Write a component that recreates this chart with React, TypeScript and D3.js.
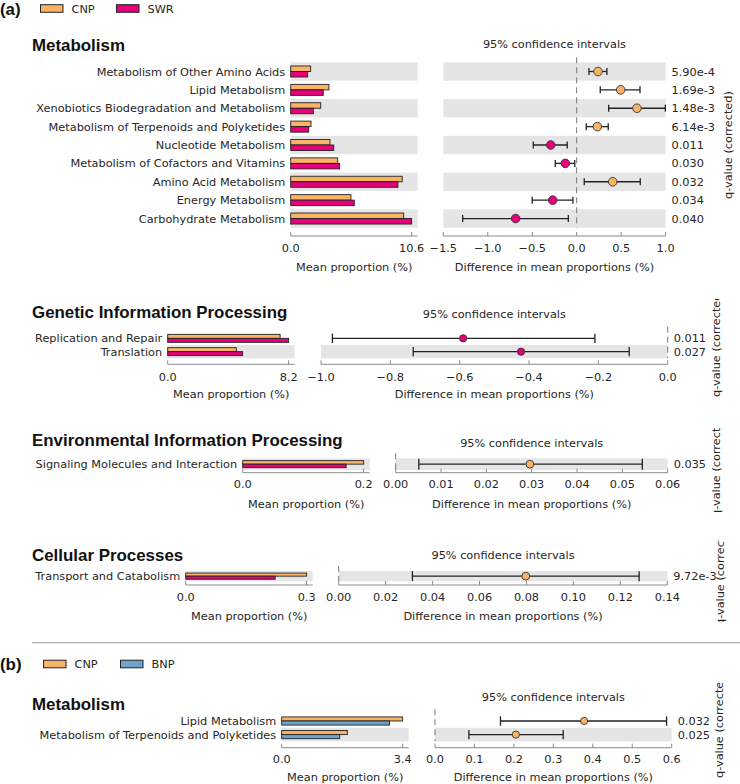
import React from "react";
import * as d3 from "d3";

// ---------- DATA ----------
const metabCats = [
  "Metabolism of Other Amino Acids",
  "Lipid Metabolism",
  "Xenobiotics Biodegradation and Metabolism",
  "Metabolism of Terpenoids and Polyketides",
  "Nucleotide Metabolism",
  "Metabolism of Cofactors and Vitamins",
  "Amino Acid Metabolism",
  "Energy Metabolism",
  "Carbohydrate Metabolism",
];
const metabCNP = [1.75, 3.35, 2.63, 1.78, 3.44, 4.12, 9.77, 5.28, 9.9];
const metabSWR = [1.49, 2.85, 1.98, 1.58, 3.77, 4.29, 9.4, 5.57, 10.6];
const metabDiff = [0.24, 0.495, 0.678, 0.232, -0.292, -0.128, 0.405, -0.27, -0.686];
const metabLo = [0.138, 0.265, 0.36, 0.108, -0.488, -0.241, 0.085, -0.5, -1.282];
const metabHi = [0.34, 0.712, 0.997, 0.355, -0.106, -0.022, 0.715, -0.042, -0.094];
const metabQ = ["5.90e-4", "1.69e-3", "1.48e-3", "6.14e-3", "0.011", "0.030", "0.032", "0.034", "0.040"];
const metabBarTicks = [0, 10.6];
const metabCITicks = [-1.5, -1.0, -0.5, 0, 0.5, 1.0];

const genCats = ["Replication and Repair", "Translation"];
const genCNP = [7.62, 4.65];
const genSWR = [8.2, 5.08];
const genDiff = [-0.59, -0.423];
const genLo = [-0.967, -0.734];
const genHi = [-0.21, -0.111];
const genQ = ["0.011", "0.027"];
const genBarTicks = [0, 8.2];
const genCITicks = [-1.0, -0.8, -0.6, -0.4, -0.2, 0.0];

const envCats = ["Signaling Molecules and Interaction"];
const envCNP = [0.2];
const envSWR = [0.171];
const envDiff = [0.0296];
const envLo = [0.0051];
const envHi = [0.0544];
const envQ = ["0.035"];
const envBarTicks = [0, 0.2];
const envCITicks = [0, 0.01, 0.02, 0.03, 0.04, 0.05, 0.06];

const cellCats = ["Transport and Catabolism"];
const cellCNP = [0.3];
const cellSWR = [0.222];
const cellDiff = [0.0797];
const cellLo = [0.0314];
const cellHi = [0.128];
const cellQ = ["9.72e-3"];
const cellBarTicks = [0, 0.3];
const cellCITicks = [0, 0.02, 0.04, 0.06, 0.08, 0.1, 0.12, 0.14];

const bCats = ["Lipid Metabolism", "Metabolism of Terpenoids and Polyketides"];
const bCNP = [3.4, 1.845];
const bBNP = [3.03, 1.63];
const bDiff = [0.378, 0.205];
const bLo = [0.166, 0.086];
const bHi = [0.587, 0.325];
const bQ = ["0.032", "0.025"];
const bBarTicks = [0, 3.4];
const bCITicks = [0, 0.1, 0.2, 0.3, 0.4, 0.5, 0.6];

// ---------- STYLE ----------
const C_CNP = "#F9B366";
const C_SWR = "#E6007A";
const C_BNP = "#6FA3CC";
const BAND = "#E5E5E5";
const AXIS = "#8C8C8C";
const TXT = "#262626";
const FONT = "DejaVu Sans, sans-serif";
const BOLD = "Liberation Sans, Arial, sans-serif";
const FS = 11.3;
const TFS = 16.9;

type Sec = {
  title: string;
  cats: string[];
  a: number[];
  b: number[];
  colA: string;
  colB: string;
  diff: number[];
  lo: number[];
  hi: number[];
  q: string[];
  barTicks: number[];
  ciTicks: number[];
  ciFmt: string;
  L: any;
};

const sections: Sec[] = [
  {
    title: "Metabolism", cats: metabCats, a: metabCNP, b: metabSWR, colA: C_CNP, colB: C_SWR,
    diff: metabDiff, lo: metabLo, hi: metabHi, q: metabQ, barTicks: metabBarTicks, ciTicks: metabCITicks, ciFmt: ".1f",
    L: { titleY: 51, ciTitleY: 47.5, rowsTop: 62.3, rowH: 18.38, axisY: 236, tickY: 252, xlabY: 271, barX0: 290.7, ciX0: 443.3, ciX1: 665.6, qLabX: 728, qLabStart: 199, clip: null, r: 4.3, cap: 3.5 },
  },
  {
    title: "Genetic Information Processing", cats: genCats, a: genCNP, b: genSWR, colA: C_CNP, colB: C_SWR,
    diff: genDiff, lo: genLo, hi: genHi, q: genQ, barTicks: genBarTicks, ciTicks: genCITicks, ciFmt: ".1f",
    L: { titleY: 318, ciTitleY: 318, rowsTop: 331.7, rowH: 13.3, axisY: 364.3, tickY: 381, xlabY: 398, barX0: 167.7, ciX0: 321, ciX1: 667.7, qLabX: 716, qLabStart: 397, clip: [299, 790], r: 3.6, cap: 4.7 },
  },
  {
    title: "Environmental Information Processing", cats: envCats, a: envCNP, b: envSWR, colA: C_CNP, colB: C_SWR,
    diff: envDiff, lo: envLo, hi: envHi, q: envQ, barTicks: envBarTicks, ciTicks: envCITicks, ciFmt: ".2f",
    L: { titleY: 446, ciTitleY: 447, rowsTop: 458.3, rowH: 11.7, axisY: 472.7, tickY: 488, xlabY: 507.5, barX0: 242.7, ciX0: 395.7, ciX1: 667.7, qLabX: 716, qLabStart: 517, clip: [428, 512], r: 3.9, cap: 5.5 },
  },
  {
    title: "Cellular Processes", cats: cellCats, a: cellCNP, b: cellSWR, colA: C_CNP, colB: C_SWR,
    diff: cellDiff, lo: cellLo, hi: cellHi, q: cellQ, barTicks: cellBarTicks, ciTicks: cellCITicks, ciFmt: ".2f",
    L: { titleY: 560.5, ciTitleY: 559, rowsTop: 571, rowH: 10.3, axisY: 585, tickY: 601, xlabY: 620, barX0: 185.7, ciX0: 338.7, ciX1: 667.3, qLabX: 719.5, qLabStart: 626, clip: [540, 622], r: 3.9, cap: 5 },
  },
  {
    title: "Metabolism", cats: bCats, a: bCNP, b: bBNP, colA: C_CNP, colB: C_BNP,
    diff: bDiff, lo: bLo, hi: bHi, q: bQ, barTicks: bBarTicks, ciTicks: bCITicks, ciFmt: ".1f",
    L: { titleY: 709.5, ciTitleY: 701, rowsTop: 714.2, rowH: 13.6, axisY: 747.7, tickY: 763, xlabY: 781, barX0: 281.7, ciX0: 435, ciX1: 671.7, qLabX: 719, qLabStart: 778, clip: [683, 790], r: 3.6, cap: 4.7 },
  },
];

const BAR_W = 127;

function Section({ s, idx }: { s: Sec; idx: number }) {
  const L = s.L;
  const n = s.cats.length;
  const barMax = s.barTicks[s.barTicks.length - 1] * 1.05;
  const xb = d3.scaleLinear().domain([0, barMax]).range([L.barX0, L.barX0 + BAR_W]);
  const xc = d3.scaleLinear().domain([s.ciTicks[0], s.ciTicks[s.ciTicks.length - 1]]).range([L.ciX0, L.ciX1]);
  const y = d3.scaleBand<number>().domain(d3.range(n)).range([L.rowsTop, L.rowsTop + n * L.rowH]).padding(0);
  const rowsBottom = L.rowsTop + n * L.rowH;
  const fmtBar = d3.format(".1f");
  const fmtCI = d3.format(s.ciFmt);
  const bh = L.rowH * 0.3;
  const clipId = `qclip${idx}`;
  const ciMid = (L.ciX0 + L.ciX1) / 2;
  const barMid = L.barX0 + BAR_W / 2;
  return (
    <g>
      {L.clip && (
        <defs>
          <clipPath id={clipId}>
            <rect x={0} y={L.clip[0]} width={740} height={L.clip[1] - L.clip[0]} />
          </clipPath>
        </defs>
      )}
      <text x={32} y={L.titleY} fontFamily={BOLD} fontWeight="bold" fontSize={TFS} fill="#111">{s.title}</text>
      <text x={ciMid} y={L.ciTitleY} textAnchor="middle" fontFamily={FONT} fontSize={FS} fill={TXT}>95% confidence intervals</text>
      {d3.range(n).map((i) =>
        (n - 1 - i) % 2 === 0 ? (
          <g key={"band" + i}>
            <rect x={xb(0)} y={y(i)!} width={xb(barMax) - xb(0)} height={L.rowH} fill={BAND} />
            <rect x={L.ciX0} y={y(i)!} width={L.ciX1 - L.ciX0} height={L.rowH} fill={BAND} />
          </g>
        ) : null
      )}
      {s.cats.map((c, i) => (
        <text key={"lab" + i} x={L.barX0 - 5.5} y={y(i)! + L.rowH / 2} dy="0.36em" textAnchor="end" fontFamily={FONT} fontSize={FS} fill={TXT}>{c}</text>
      ))}
      {s.cats.map((c, i) => {
        const cy = y(i)! + L.rowH / 2;
        return (
          <g key={"bar" + i}>
            <rect x={xb(0)} y={cy - bh} width={xb(s.a[i]) - xb(0)} height={bh} fill={s.colA} stroke="#222" strokeWidth={0.9} />
            <rect x={xb(0)} y={cy} width={xb(s.b[i]) - xb(0)} height={bh} fill={s.colB} stroke="#222" strokeWidth={0.9} />
          </g>
        );
      })}
      <line x1={xb(0)} x2={xb(barMax)} y1={L.axisY} y2={L.axisY} stroke={AXIS} strokeWidth={1} />
      {s.barTicks.map((t) => (
        <g key={"bt" + t}>
          <line x1={xb(t)} x2={xb(t)} y1={L.axisY} y2={L.axisY - 4} stroke={AXIS} strokeWidth={1} />
          <text x={xb(t)} y={L.tickY} textAnchor="middle" fontFamily={FONT} fontSize={FS} fill={TXT}>{fmtBar(t)}</text>
        </g>
      ))}
      <text x={barMid} y={L.xlabY} textAnchor="middle" fontFamily={FONT} fontSize={FS} fill={TXT}>Mean proportion (%)</text>
      {xc.domain()[0] <= 0 && xc.domain()[1] >= 0 && (
        <line x1={xc(0)} x2={xc(0)} y1={L.rowsTop - 5} y2={rowsBottom} stroke="#777" strokeWidth={1} strokeDasharray="6,4" />
      )}
      {s.cats.map((c, i) => {
        const cy = y(i)! + L.rowH / 2;
        const col = s.diff[i] >= 0 ? s.colA : s.colB;
        return (
          <g key={"ci" + i}>
            <line x1={xc(s.lo[i])} x2={xc(s.hi[i])} y1={cy} y2={cy} stroke="#222" strokeWidth={1.3} />
            <line x1={xc(s.lo[i])} x2={xc(s.lo[i])} y1={cy - L.cap} y2={cy + L.cap} stroke="#222" strokeWidth={1.3} />
            <line x1={xc(s.hi[i])} x2={xc(s.hi[i])} y1={cy - L.cap} y2={cy + L.cap} stroke="#222" strokeWidth={1.3} />
            <circle cx={xc(s.diff[i])} cy={cy} r={L.r} fill={col} stroke="#333" strokeWidth={0.9} />
            <text x={L.ciX1 + 6} y={cy} dy="0.36em" fontFamily={FONT} fontSize={FS} fill={TXT}>{s.q[i]}</text>
          </g>
        );
      })}
      <line x1={L.ciX0} x2={L.ciX1} y1={L.axisY} y2={L.axisY} stroke={AXIS} strokeWidth={1} />
      {s.ciTicks.map((t) => (
        <g key={"ct" + t}>
          <line x1={xc(t)} x2={xc(t)} y1={L.axisY} y2={L.axisY - 4} stroke={AXIS} strokeWidth={1} />
          <text x={xc(t)} y={L.tickY} textAnchor="middle" fontFamily={FONT} fontSize={FS} fill={TXT}>{fmtCI(t)}</text>
        </g>
      ))}
      <text x={ciMid} y={L.xlabY} textAnchor="middle" fontFamily={FONT} fontSize={FS} fill={TXT}>Difference in mean proportions (%)</text>
      <g clipPath={L.clip ? `url(#${clipId})` : undefined}>
        <text transform={`translate(${L.qLabX},${L.qLabStart}) rotate(-90)`} dy="0.36em" fontFamily={FONT} fontSize={FS} fill={TXT}>q-value (corrected)</text>
      </g>
    </g>
  );
}

function Legend({ y, label, items }: { y: number; label: string; items: { name: string; color: string; x: number }[] }) {
  return (
    <g>
      <text x={0} y={y} dy="0.36em" fontFamily={BOLD} fontWeight="bold" fontSize={TFS} fill="#111">{label}</text>
      {items.map((it) => (
        <g key={it.name}>
          <rect x={it.x} y={y - 3.8} width={22.5} height={7.6} fill={it.color} stroke="#222" strokeWidth={1} />
          <text x={it.x + 31} y={y} dy="0.36em" fontFamily={FONT} fontSize={FS} fill={TXT}>{it.name}</text>
        </g>
      ))}
    </g>
  );
}

export default function App() {
  return (
    <svg width={740} height={784} style={{ position: "absolute", left: 0, top: 0, background: "#fff" }}>
      <rect x={0} y={0} width={740} height={784} fill="#fff" />
      <Legend y={8.5} label="(a)" items={[{ name: "CNP", color: C_CNP, x: 40.5 }, { name: "SWR", color: C_SWR, x: 116.5 }]} />
      {sections.map((s, i) => (
        <Section key={i} s={s} idx={i} />
      ))}
      <line x1={32} x2={740} y1={642.7} y2={642.7} stroke="#9a9a9a" strokeWidth={1} />
      <Legend y={664} label="(b)" items={[{ name: "CNP", color: C_CNP, x: 43.5 }, { name: "BNP", color: C_BNP, x: 120.5 }]} />
    </svg>
  );
}
